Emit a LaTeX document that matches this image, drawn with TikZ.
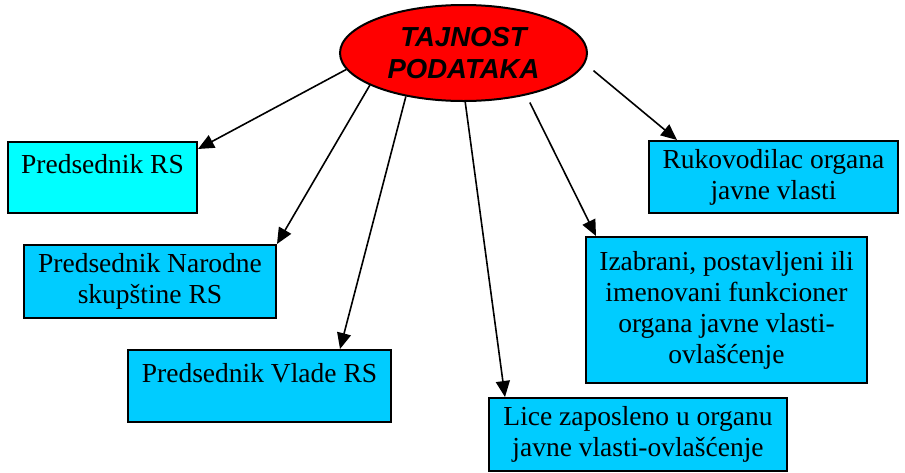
\documentclass[tikz,border=0pt]{standalone}
\usepackage{fontspec}
\setmainfont{Liberation Serif}
\newfontfamily\headfont{Liberation Sans}
\usetikzlibrary{arrows.meta,shapes.geometric}
\definecolor{boxcyan}{HTML}{00FFFF}
\definecolor{boxblue}{HTML}{00CCFF}
\definecolor{ellred}{HTML}{FF0000}
\begin{document}
\begin{tikzpicture}[x=1pt,y=-1pt,
  box/.style={draw=black,line width=2pt,fill=boxblue,inner sep=0pt,align=center,font=\fontsize{27.5}{31}\selectfont},
  conn/.style={line width=1.6pt,-{Triangle[length=16pt,width=14pt]}}]
\useasboundingbox (0,0) rectangle (905,472);
\node[ellipse,draw=black,line width=2pt,fill=ellred,minimum width=247pt,minimum height=96pt,inner sep=0pt,align=center,font=\headfont\bfseries\itshape\fontsize{27.5}{32}\selectfont] (ell) at (463.5,53) {TAJNOST\\PODATAKA};
\node[box,fill=boxcyan,minimum width=189pt,text height=31pt,text depth=40pt] (b1) at (102.5,177.5) {Predsednik RS};
\node[box,minimum width=252pt,minimum height=73pt] (b2) at (150,281.5) {Predsednik Narodne\\skupštine RS};
\node[box,minimum width=263pt,text height=32pt,text depth=40pt] (b3) at (259.5,386) {Predsednik Vlade RS};
\node[box,minimum width=298pt,minimum height=73pt] (b4) at (638,434.5) {Lice zaposleno u organu\\javne vlasti-ovlašćenje};
\node[box,minimum width=281pt,minimum height=146pt] (b5) at (726.5,310) {Izabrani, postavljeni ili\\imenovani funkcioner\\organa javne vlasti-\\ovlašćenje};
\node[box,minimum width=249pt,minimum height=72pt] (b6) at (773.5,177) {Rukovodilac organa\\javne vlasti};
\draw[conn] (ell.188) -- ([yshift=-8pt]b1.north east);
\draw[conn] (ell.199) -- (b2.north east);
\draw[conn] (ell.217) -- ([xshift=80.5pt]b3.north);
\draw[conn] (ell.272) -- ([xshift=-133pt]b4.north);
\draw[conn,shorten <=8pt] (ell.326) -- ([xshift=11pt]b5.north west);
\draw[conn,shorten <=11pt] (ell.355) -- ([xshift=29pt]b6.north west);
\end{tikzpicture}
\end{document}
